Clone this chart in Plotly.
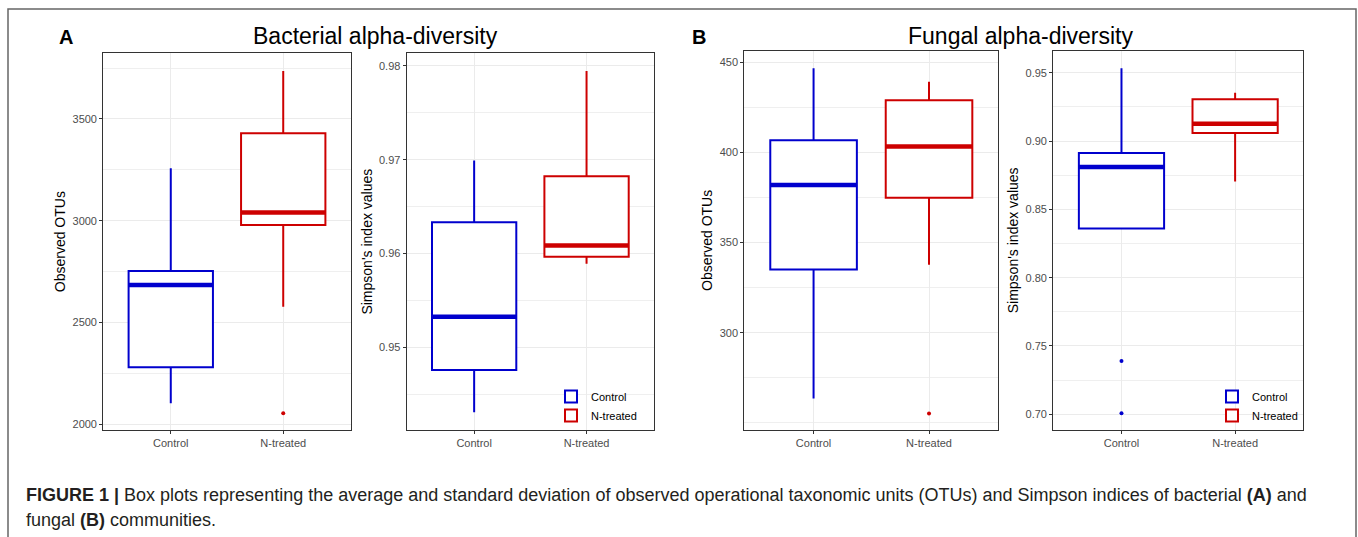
import plotly.graph_objects as go

W, H = 1358, 537

groups = ["Control", "N-treated"]
colors = ["#0000CD", "#CD0000"]

# ---- Panel A: bacterial observed OTUs ----
bac_otu_q1 = [2279, 2979]
bac_otu_median = [2684, 3040]
bac_otu_q3 = [2753, 3430]
bac_otu_low = [2102, 2576]
bac_otu_high = [3258, 3736]
bac_otu_out_group = [1]
bac_otu_out_value = [2053]

# ---- Panel A: bacterial Simpson ----
bac_simp_q1 = [0.94758, 0.95965]
bac_simp_median = [0.95326, 0.96085]
bac_simp_q3 = [0.96334, 0.96825]
bac_simp_low = [0.94307, 0.9589]
bac_simp_high = [0.96993, 0.97947]
bac_simp_out_group = []
bac_simp_out_value = []

# ---- Panel B: fungal observed OTUs ----
fun_otu_q1 = [335.0, 374.8]
fun_otu_median = [381.9, 403.2]
fun_otu_q3 = [406.7, 428.9]
fun_otu_low = [263.5, 337.6]
fun_otu_high = [446.7, 439.2]
fun_otu_out_group = [1]
fun_otu_out_value = [255.1]

# ---- Panel B: fungal Simpson ----
fun_simp_q1 = [0.8359, 0.9059]
fun_simp_median = [0.8810, 0.9127]
fun_simp_q3 = [0.8912, 0.9305]
fun_simp_low = [0.8359, 0.8704]
fun_simp_high = [0.9532, 0.9354]
fun_simp_out_group = [0, 0]
fun_simp_out_value = [0.739, 0.7007]

BOX_W = 0.75


def px_x(p):
    return p / W


def px_y(p):
    return 1 - p / H


panels = [
    dict(q1=bac_otu_q1, med=bac_otu_median, q3=bac_otu_q3, lo=bac_otu_low, hi=bac_otu_high,
         og=bac_otu_out_group, ov=bac_otu_out_value,
         xd=(103.3, 350.7), yd=(53.3, 430), yr=(1970.5, 3823),
         ticks=[2000, 2500, 3000, 3500], minor=[2250, 2750, 3250, 3750], fmt="d",
         ytitle="Observed OTUs", legend=None),
    dict(q1=bac_simp_q1, med=bac_simp_median, q3=bac_simp_q3, lo=bac_simp_low, hi=bac_simp_high,
         og=bac_simp_out_group, ov=bac_simp_out_value,
         xd=(406.7, 654.0), yd=(53.3, 430), yr=(0.94118, 0.98135),
         ticks=[0.95, 0.96, 0.97, 0.98], minor=[0.945, 0.955, 0.965, 0.975], fmt=".2f",
         ytitle="Simpson's index values", legend="legend"),
    dict(q1=fun_otu_q1, med=fun_otu_median, q3=fun_otu_q3, lo=fun_otu_low, hi=fun_otu_high,
         og=fun_otu_out_group, ov=fun_otu_out_value,
         xd=(744.3, 998.3), yd=(50.7, 430), yr=(246.0, 456.4),
         ticks=[300, 350, 400, 450], minor=[250, 275, 325, 375, 425], fmt="d",
         ytitle="Observed OTUs", legend=None),
    dict(q1=fun_simp_q1, med=fun_simp_median, q3=fun_simp_q3, lo=fun_simp_low, hi=fun_simp_high,
         og=fun_simp_out_group, ov=fun_simp_out_value,
         xd=(1053.3, 1303.3), yd=(50.7, 430), yr=(0.6885, 0.9661),
         ticks=[0.70, 0.75, 0.80, 0.85, 0.90, 0.95],
         minor=[0.725, 0.775, 0.825, 0.875, 0.925], fmt=".2f",
         ytitle="Simpson's index values", legend="legend2"),
]

fig = go.Figure()
layout = {}
FONT = "Liberation Sans, Arial, sans-serif"

for k, p in enumerate(panels, start=1):
    xa = "x" if k == 1 else f"x{k}"
    ya = "y" if k == 1 else f"y{k}"
    for i, g in enumerate(groups):
        kw = dict(legend=p["legend"]) if p["legend"] else {}
        fig.add_trace(go.Box(
            x=[i], q1=[p["q1"][i]], median=[p["med"][i]], q3=[p["q3"][i]],
            lowerfence=[p["lo"][i]], upperfence=[p["hi"][i]],
            name=g, width=BOX_W, whiskerwidth=0,
            line=dict(color=colors[i], width=2), fillcolor="white",
            boxpoints=False, xaxis=xa, yaxis=ya,
            showlegend=bool(p["legend"]), hoverinfo="skip", **kw))
        # thick median bar
        fig.add_trace(go.Scatter(
            x=[i - BOX_W / 2, i + BOX_W / 2], y=[p["med"][i], p["med"][i]],
            mode="lines", line=dict(color=colors[i], width=4.5),
            xaxis=xa, yaxis=ya, showlegend=False, hoverinfo="skip"))
    if p["og"]:
        fig.add_trace(go.Scatter(
            x=p["og"], y=p["ov"], mode="markers",
            marker=dict(color=[colors[g] for g in p["og"]], size=4),
            xaxis=xa, yaxis=ya, showlegend=False, hoverinfo="skip"))

    axis_common = dict(
        showline=True, mirror=True, linecolor="#333333", linewidth=1.2,
        ticks="outside", ticklen=3, tickcolor="#333333", tickwidth=1,
        zeroline=False, showgrid=True, gridcolor="#EBEBEB", gridwidth=1.1,
        tickfont=dict(family=FONT, size=11, color="#4D4D4D"),
    )
    layout["xaxis" if k == 1 else f"xaxis{k}"] = dict(
        axis_common, domain=[px_x(p["xd"][0]), px_x(p["xd"][1])],
        range=[-0.6, 1.6], tickmode="array", tickvals=[0, 1], ticktext=groups,
        anchor=ya, fixedrange=True)
    layout["yaxis" if k == 1 else f"yaxis{k}"] = dict(
        axis_common, domain=[px_y(p["yd"][1]), px_y(p["yd"][0])],
        range=list(p["yr"]), tickmode="array", tickvals=p["ticks"],
        tickformat=p["fmt"], anchor=xa,
        minor=dict(tickmode="array", tickvals=p["minor"], showgrid=True,
                   gridcolor="#EFEFEF", gridwidth=0.7, ticks=""),
        title=dict(text=p["ytitle"], font=dict(family=FONT, size=14, color="black"),
                   standoff=3),
        fixedrange=True)

leg_common = dict(bgcolor="rgba(0,0,0,0)", borderwidth=0,
                  font=dict(family=FONT, size=11, color="black"),
                  xanchor="left", yanchor="top", itemwidth=30, tracegroupgap=0)
layout["legend"] = dict(leg_common, x=px_x(551), y=px_y(382))
layout["legend2"] = dict(leg_common, x=px_x(1212), y=px_y(382))

annotations = [
    dict(text="<b>A</b>", x=px_x(57), y=px_y(37), xanchor="left", yanchor="middle",
         font=dict(family=FONT, size=20, color="black")),
    dict(text="Bacterial alpha-diversity", x=px_x(375), y=px_y(36), xanchor="center",
         yanchor="middle", font=dict(family=FONT, size=23, color="black")),
    dict(text="<b>B</b>", x=px_x(690), y=px_y(37), xanchor="left", yanchor="middle",
         font=dict(family=FONT, size=20, color="black")),
    dict(text="Fungal alpha-diversity", x=px_x(1021), y=px_y(36), xanchor="center",
         yanchor="middle", font=dict(family=FONT, size=23, color="black")),
    dict(text="<b>FIGURE 1 |</b> Box plots representing the average and standard deviation of "
              "observed operational taxonomic units (OTUs) and Simpson indices of bacterial "
              "<b>(A)</b> and",
         x=px_x(24), y=px_y(495), xanchor="left", yanchor="middle",
         font=dict(family=FONT, size=18, color="#231F20")),
    dict(text="fungal <b>(B)</b> communities.",
         x=px_x(24), y=px_y(520), xanchor="left", yanchor="middle",
         font=dict(family=FONT, size=18, color="#231F20")),
]
for a in annotations:
    a.update(xref="paper", yref="paper", showarrow=False)

shapes = [
    dict(type="path", xref="paper", yref="paper",
         path=f"M {px_x(8)},{px_y(545)} L {px_x(8)},{px_y(9)} L {px_x(1356)},{px_y(9)} L {px_x(1356)},{px_y(545)}",
         line=dict(color="#666666", width=1.5)),
]

fig.update_layout(
    width=W, height=H, margin=dict(l=0, r=0, t=0, b=0),
    paper_bgcolor="white", plot_bgcolor="white",
    boxmode="overlay", annotations=annotations, shapes=shapes,
    font=dict(family=FONT),
    **layout,
)

fig.write_html("out.html", config={"displayModeBar": False},
               post_script="document.body.style.margin='0px';document.body.style.overflow='hidden';")
